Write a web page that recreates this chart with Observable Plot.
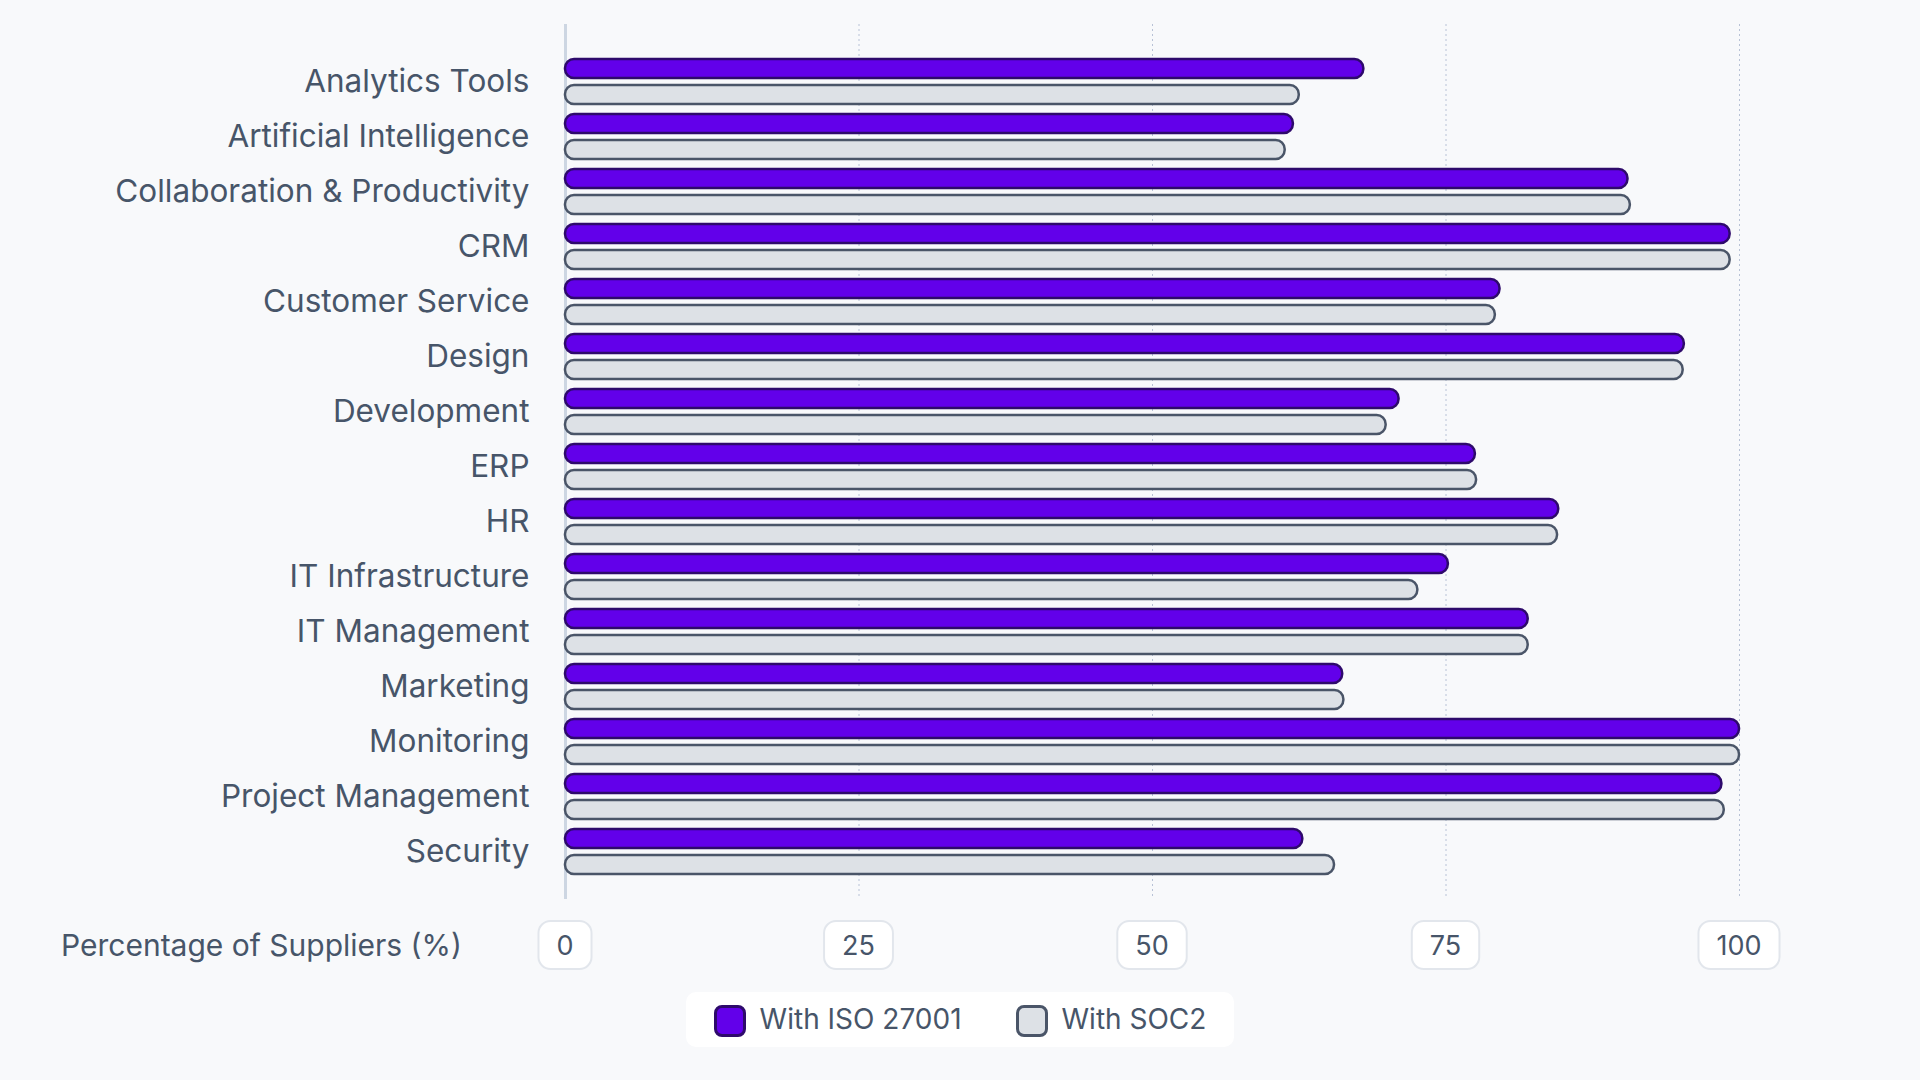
<!DOCTYPE html>
<html><head><meta charset="utf-8">
<script src="https://cdn.jsdelivr.net/npm/d3@7"></script>
<script src="https://cdn.jsdelivr.net/npm/@observablehq/plot@0.6"></script>
<style>
body{margin:0;background:#f8f9fb;font-family:Inter,sans-serif;}
#legend{display:flex;justify-content:center;margin-top:-8px}
#legend .box{display:flex;gap:54px;background:#fff;border-radius:10px;padding:10px 28px;font-size:28px;color:#475569;align-items:center}
#legend span.sw{display:inline-block;width:26px;height:26px;border-radius:8px;border:3px solid;vertical-align:middle;margin-right:14px}
</style></head><body>
<div id="chart"></div>
<div id="legend"><div class="box">
<div><span class="sw" style="background:#6200ea;border-color:#2e0a6b"></span>With ISO 27001</div>
<div><span class="sw" style="background:#dde1e6;border-color:#4a5568"></span>With SOC2</div>
</div></div>
<script>
const categories=["Analytics Tools","Artificial Intelligence","Collaboration & Productivity","CRM","Customer Service","Design","Development","ERP","HR","IT Infrastructure","IT Management","Marketing","Monitoring","Project Management","Security"];
const iso=[68,62,90.5,99.2,79.6,95.3,71,77.5,84.6,75.2,82,66.2,100,98.5,62.8];
const soc=[62.5,61.3,90.7,99.2,79.2,95.2,69.9,77.6,84.5,72.6,82,66.3,100,98.7,65.5];
const ticks=[0,25,50,75,100];
const dIso=categories.map((c,i)=>({c,v:iso[i]}));
const dSoc=categories.map((c,i)=>({c,v:soc[i]}));
const chart=Plot.plot({
  width:1920,height:1000,marginLeft:565,marginRight:181,marginTop:54,marginBottom:121,
  style:{background:"transparent",fontFamily:"Inter,sans-serif",fontSize:"31px",color:"#475569"},
  x:{domain:[0,100],axis:null},
  y:{domain:categories,padding:0,label:null,tickSize:0,tickPadding:36},
  marks:[
    Plot.gridX(ticks.slice(1),{stroke:"#b8c2d6",strokeOpacity:1,strokeDasharray:"2,3",insetTop:-30,insetBottom:-20}),
    Plot.ruleX([0],{stroke:"#cdd6e2",strokeWidth:3,insetTop:-30,insetBottom:-20}),
    Plot.barX(dIso,{x:"v",y:"c",fill:"#6200ea",stroke:"#2e0a6b",strokeWidth:2.5,rx:9,insetTop:5,insetBottom:31}),
    Plot.barX(dSoc,{x:"v",y:"c",fill:"#dde1e6",stroke:"#4a5568",strokeWidth:2.5,rx:9,insetTop:31,insetBottom:5}),
    Plot.axisY({tickSize:0,tickPadding:36,fontSize:31.5,fill:"#475569",label:null})
  ]
});
document.getElementById("chart").append(chart);
const x=chart.scale("x");
const svg=d3.select(chart);
const g=svg.append("g").attr("font-size",27).attr("fill","#475569");
ticks.forEach(t=>{
  const cx=x.apply(t);
  const txt=g.append("text").attr("x",cx).attr("y",945).attr("text-anchor","middle").attr("dominant-baseline","central").text(t);
  const b=txt.node().getBBox();
  g.insert("rect","text").attr("x",b.x-18).attr("y",921).attr("width",b.width+36).attr("height",48).attr("rx",12)
   .attr("fill","#fff").attr("stroke","#e2e6ec").attr("stroke-width",2);
});
svg.append("text").attr("x",61).attr("y",945).attr("text-anchor","start").attr("dominant-baseline","central").attr("font-size",30).attr("fill","#475569").text("Percentage of Suppliers (%)");
</script></body></html>
